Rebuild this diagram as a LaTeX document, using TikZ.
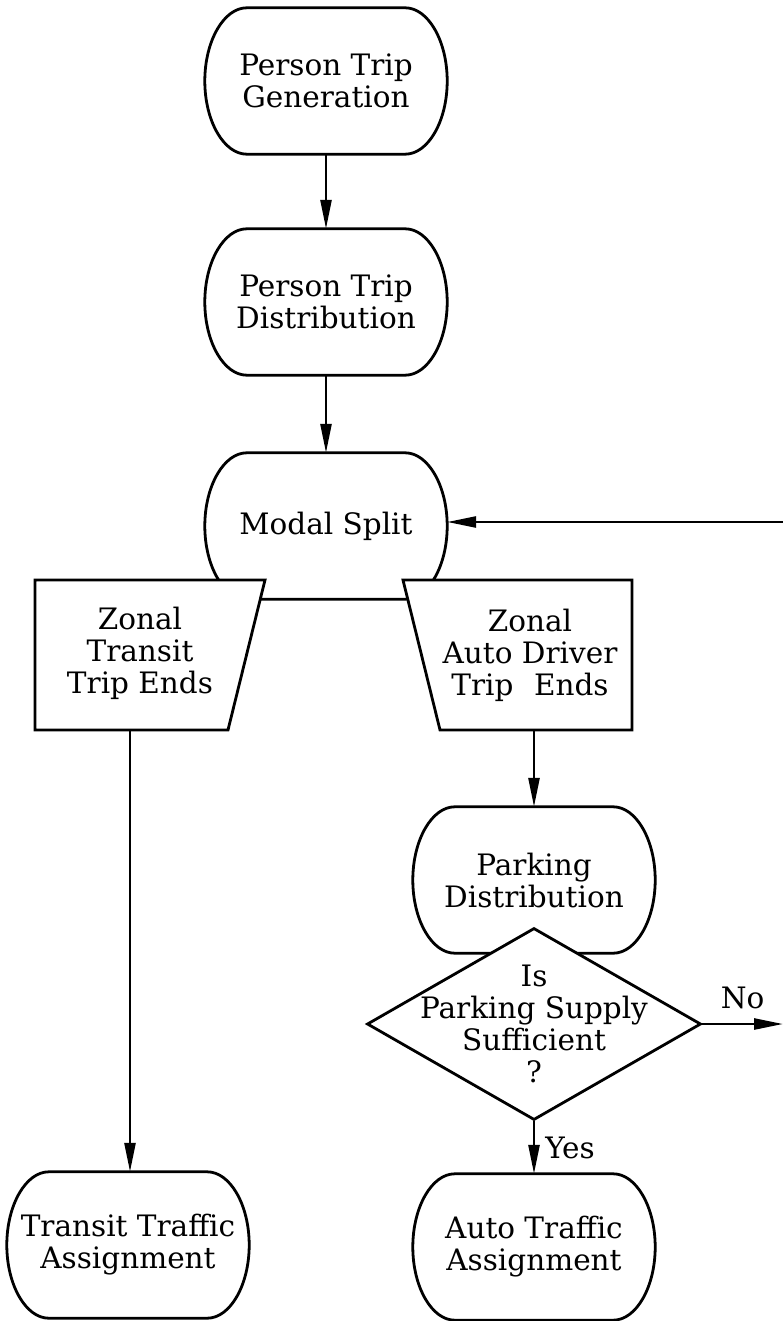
\documentclass[tikz,border=0pt]{standalone}
\usepackage{fontspec}
\setmainfont{DejaVu Serif}
\usetikzlibrary{arrows.meta,shapes.geometric}

% outline with flat top and bottom and bulging sides
\newcommand{\barrel}[1]{%
  \draw[box line] ([xshift=42pt]#1.north west) -- ([xshift=-42pt]#1.north east)
    .. controls ([xshift=-19pt]#1.north east) and ([yshift=40pt]#1.east) .. (#1.east)
    .. controls ([yshift=-40pt]#1.east) and ([xshift=-19pt]#1.south east) .. ([xshift=-42pt]#1.south east)
    -- ([xshift=42pt]#1.south west)
    .. controls ([xshift=19pt]#1.south west) and ([yshift=-40pt]#1.west) .. (#1.west)
    .. controls ([yshift=40pt]#1.west) and ([xshift=19pt]#1.north west) .. cycle;}

\begin{document}
\begin{tikzpicture}[x=1pt, y=-1pt,
    proc/.style={minimum width=242pt, minimum height=146pt, inner sep=0pt, align=center,
      font=\fontsize{29.5}{32}\selectfont},
    txt/.style={inner sep=0pt, align=center, font=\fontsize{29.5}{32}\selectfont},
    box line/.style={line width=2.8pt},
    arr/.style={line width=2.6pt, -{Triangle[length=29pt,width=11pt]}}]
    \useasboundingbox (0,0) rectangle (783,1321);
    % Main column
    \node at (326,81) [proc] (gen) {Person Trip\\Generation};
    \barrel{gen}
    \node at (326,302) [proc] (dist) {Person Trip\\Distribution};
    \barrel{dist}
    \node at (326,526) [proc] (modal) {Modal Split};
    \barrel{modal}
    \draw[arr] (gen.south) -- (dist.north);
    \draw[arr] (dist.south) -- (modal.north);
    % Trip ends
    \draw[box line, fill=white] (35,580) -- (265,580) -- (228,730) -- (35,730) -- cycle;
    \draw[box line, fill=white] (403,580) -- (632,580) -- (632,730) -- (440,730) -- cycle;
    \node at (140,653) [txt] (transends) {Zonal\\Transit\\Trip Ends};
    \node at (530,655) [txt] (autoends) {Zonal\\Auto Driver\\Trip\hspace{0.7em}Ends};
    \coordinate (transbot) at (130,730);
    \coordinate (autobot) at (534,730);
    % Parking
    \node at (534,880) [proc] (park) {Parking\\Distribution};
    \barrel{park}
    \draw[arr] (autobot) -- (autobot |- park.north);
    \node at (534,1024) [diamond, draw, fill=white, line width=2.8pt, inner sep=0pt,
      minimum width=334pt, minimum height=192pt] (suff) {};
    \node at (534,1024) [txt] (ask) {Is\\Parking Supply\\Sufficient\\?};
    % Assignment
    \node at (128,1245) [proc] (transit) {Transit Traffic\\Assignment};
    \barrel{transit}
    \node at (534,1247) [proc] (auto) {Auto Traffic\\Assignment};
    \barrel{auto}
    \draw[arr] (transbot) -- (transbot |- transit.north);
    \draw[arr] (suff.south) -- (auto.north) node[midway, right=10pt, txt] (yes) {Yes};
    % Loop back
    \coordinate (noend) at (783,1024);
    \draw[arr] (suff.east) -- (noend) node[midway, above=14pt, txt] (no) {No};
    \coordinate (back) at (783,522);
    \draw[arr] (back) -- (back -| modal.east);
\end{tikzpicture}
\end{document}
